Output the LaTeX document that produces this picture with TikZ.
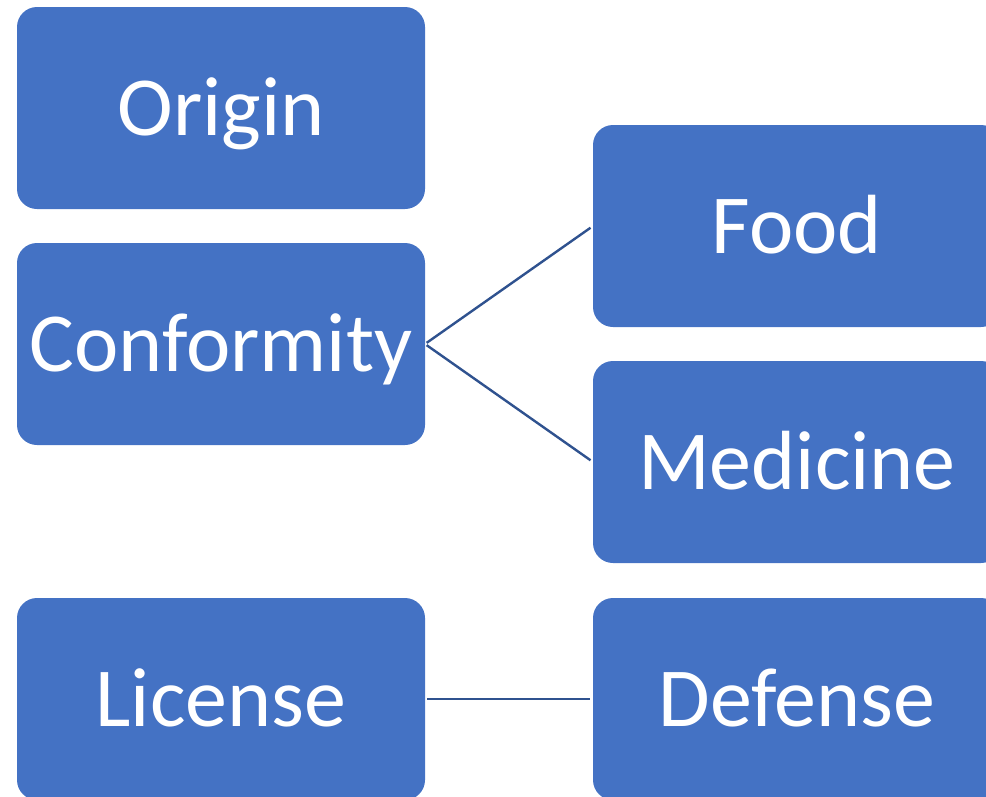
\documentclass[tikz,border=0pt]{standalone}
\usepackage{fontspec}
\setmainfont{Carlito}
\definecolor{boxblue}{HTML}{4472C4}
\definecolor{linkblue}{HTML}{2F528F}
\tikzset{
  box/.style={fill=boxblue, draw=none, rounded corners=20pt, minimum width=408pt, minimum height=202pt,
    inner sep=0pt, outer sep=0pt, text=white, font=\fontsize{84}{90}\selectfont, text height=54pt, text depth=0pt},
  link/.style={draw=linkblue, line width=2.4pt, shorten <=2pt, shorten >=3pt}
}
\begin{document}
\begin{tikzpicture}[x=1pt,y=-1pt]
\useasboundingbox (0,0) rectangle (986,796);
\clip (0,0) rectangle (986,796);
\node[box] (origin) at (221,108) {Origin};
\node[box] (conf) at (221,344) {Conformity};
\node[box] (lic) at (221,699) {License};
\node[box] (food) at (797,226) {Food};
\node[box] (med) at (797,462) {Medicine};
\node[box] (def) at (797,699) {Defense};
\draw[link] (conf.east) -- (food.west);
\draw[link] (conf.east) -- (med.west);
\draw[link] (lic.east) -- (def.west);
\end{tikzpicture}
\end{document}
